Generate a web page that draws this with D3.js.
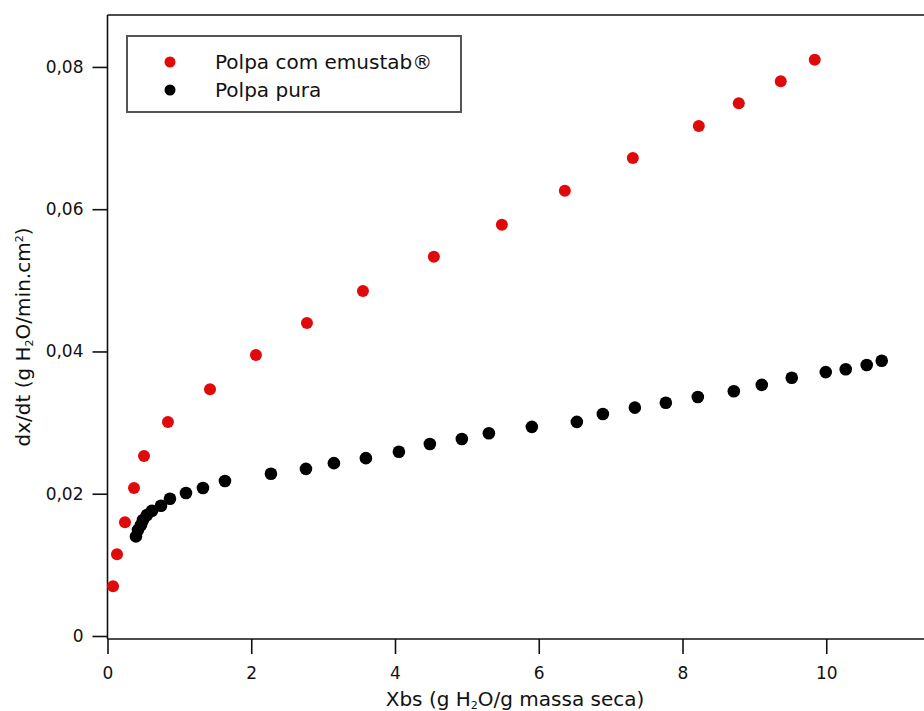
<!DOCTYPE html>
<html>
<head>
<meta charset="utf-8">
<script src="https://cdn.jsdelivr.net/npm/d3@7"></script>
<style>
  body { margin: 0; background: #fff; }
  text { font-family: "DejaVu Sans", Verdana, sans-serif; fill: #111; }
</style>
</head>
<body>
<div class="chart"></div>
<script>
// data
var emustabX = [0.077, 0.132, 0.243, 0.369, 0.508, 0.841, 1.426, 2.065, 2.775, 3.554,
                4.541, 5.487, 6.363, 7.309, 8.227, 8.783, 9.367, 9.840];
var emustabY = [0.0070, 0.0115, 0.0160, 0.0208, 0.0253, 0.0301, 0.0347, 0.0395, 0.0440, 0.0485,
                0.0533, 0.0578, 0.0626, 0.0672, 0.0717, 0.0749, 0.0780, 0.0810];

var puraX = [0.396, 0.424, 0.466, 0.494, 0.549, 0.619, 0.744, 0.869, 1.092, 1.328,
             1.634, 2.274, 2.761, 3.150, 3.595, 4.054, 4.485, 4.930, 5.306, 5.904,
             6.530, 6.892, 7.337, 7.768, 8.213, 8.714, 9.103, 9.520, 9.993, 10.271,
             10.563, 10.772];
var puraY = [0.0140, 0.0149, 0.0156, 0.0163, 0.0170, 0.0176, 0.0183, 0.0193, 0.0201, 0.0208,
             0.0218, 0.0228, 0.0235, 0.0243, 0.0250, 0.0259, 0.0270, 0.0277, 0.0285, 0.0294,
             0.0301, 0.0312, 0.0321, 0.0328, 0.0336, 0.0344, 0.0353, 0.0363, 0.0371, 0.0375,
             0.0381, 0.0387];

var seriesNames = ["Polpa com emustab®", "Polpa pura"];
var xTicks = [0, 2, 4, 6, 8, 10];
var yTicks = [0, 0.02, 0.04, 0.06, 0.08];
var yTickLabels = ["0", "0,02", "0,04", "0,06", "0,08"];

var svgWidth = 924;
var svgHeight = 711;

// plot box (right side is cut by the picture edge)
var plotLeft = 107.5, plotRight = 924, plotTop = 15, zeroY = 636;
var xAxisY = 639;

var svg = d3.select(".chart")
  .append("svg")
  .attr("width", svgWidth)
  .attr("height", svgHeight);

var x = d3.scaleLinear().domain([0, 11.36]).range([plotLeft, plotRight]);
var y = d3.scaleLinear().domain([0, 0.0873]).range([zeroY, plotTop]);

// frame lines
svg.append("line")
  .attr("x1", plotLeft).attr("x2", plotLeft).attr("y1", plotTop).attr("y2", xAxisY)
  .attr("stroke", "#111").attr("stroke-width", 1.6);
svg.append("line")
  .attr("x1", plotLeft).attr("x2", plotRight).attr("y1", plotTop).attr("y2", plotTop)
  .attr("stroke", "#111").attr("stroke-width", 1.6);
svg.append("line")
  .attr("x1", plotLeft).attr("x2", plotRight).attr("y1", xAxisY).attr("y2", xAxisY)
  .attr("stroke", "#111").attr("stroke-width", 1.6);

// axes
var bottomAxis = d3.axisBottom(x).tickValues(xTicks).tickSize(15).tickSizeOuter(0).tickPadding(13);
var leftAxis = d3.axisLeft(y).tickValues(yTicks).tickSize(15).tickSizeOuter(0).tickPadding(9)
  .tickFormat(function(d, i) { return yTickLabels[i]; });

var xAxis = svg.append("g")
  .attr("transform", `translate(0, ${xAxisY})`)
  .call(bottomAxis);
var yAxis = svg.append("g")
  .attr("transform", `translate(${plotLeft}, 0)`)
  .call(leftAxis);

[xAxis, yAxis].forEach(function(g) {
  g.select(".domain").remove();
  g.selectAll(".tick line").attr("stroke", "#111").attr("stroke-width", 1.6);
  g.selectAll(".tick text")
    .style("font-family", "'DejaVu Sans', Verdana, sans-serif")
    .style("font-size", "17px")
    .attr("fill", "#111");
});

// axis titles
var xTitle = svg.append("text")
  .attr("x", 515)
  .attr("y", 706)
  .attr("text-anchor", "middle")
  .style("font-size", "20px");
xTitle.append("tspan").text("Xbs (g H");
xTitle.append("tspan").attr("baseline-shift", "-25%").style("font-size", "11px").text("2");
xTitle.append("tspan").text("O/g massa seca)");

var yTitle = svg.append("text")
  .attr("transform", "translate(30, 337) rotate(-90)")
  .attr("text-anchor", "middle")
  .style("font-size", "20px");
yTitle.append("tspan").text("dx/dt (g H");
yTitle.append("tspan").attr("baseline-shift", "-25%").style("font-size", "11px").text("2");
yTitle.append("tspan").text("O/min.cm");
yTitle.append("tspan").attr("baseline-shift", "60%").style("font-size", "11px").text("2");
yTitle.append("tspan").text(")");

// points
var redColor = "#e00a0a";

svg.append("g").selectAll("circle")
  .data(puraX)
  .enter()
  .append("circle")
  .attr("cx", d => x(d))
  .attr("cy", (d, i) => y(puraY[i]))
  .attr("r", 6.3)
  .attr("fill", "#000");

svg.append("g").selectAll("circle")
  .data(emustabX)
  .enter()
  .append("circle")
  .attr("cx", d => x(d))
  .attr("cy", (d, i) => y(emustabY[i]))
  .attr("r", 6)
  .attr("fill", redColor);

// legend
var legend = svg.append("g");
legend.append("rect")
  .attr("x", 127).attr("y", 36)
  .attr("width", 334).attr("height", 76)
  .attr("fill", "#fff")
  .attr("stroke", "#555")
  .attr("stroke-width", 2);

var legendColors = [redColor, "#000"];
seriesNames.forEach(function(name, i) {
  legend.append("circle")
    .attr("cx", 170).attr("cy", 62 + i * 28)
    .attr("r", 5.5)
    .attr("fill", legendColors[i]);
  legend.append("text")
    .attr("x", 215).attr("y", 69 + i * 28)
    .style("font-size", "20px")
    .text(name);
});
</script>
</body>
</html>
